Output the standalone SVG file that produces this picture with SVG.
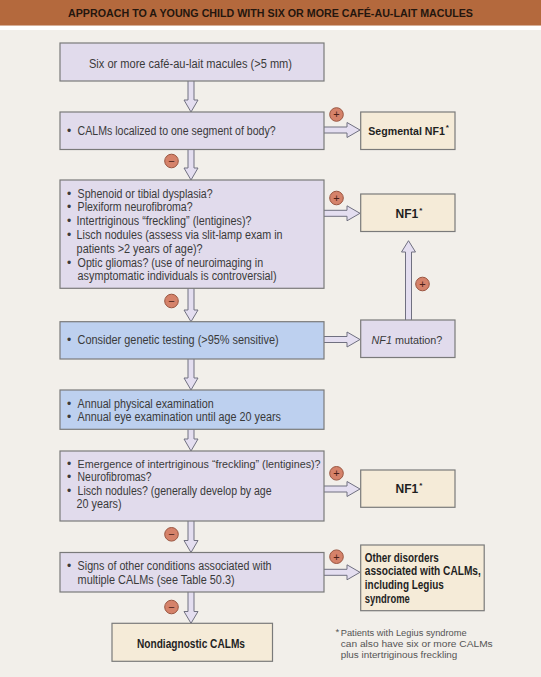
<svg xmlns="http://www.w3.org/2000/svg" width="541" height="677" viewBox="0 0 541 677">
<style>
text{font-family:"Liberation Sans",Arial,sans-serif;}
.t{font-size:12px;fill:#3a3a3a;}
.b{font-size:12px;font-weight:bold;fill:#1f1f1f;}
.fn{font-size:9.6px;fill:#555;}
.lav{fill:#e1dbec;stroke:#7a7a7a;stroke-width:1.2;}
.blu{fill:#bdd0ef;stroke:#7a7a7a;stroke-width:1.2;}
.bei{fill:#f5ebd8;stroke:#7a7a7a;stroke-width:1.2;}
.arr{fill:#e4def0;stroke:#707080;stroke-width:1;stroke-linejoin:miter;}
.c{fill:#d5826a;stroke:#9a5540;stroke-width:1;}
.s{font-size:11px;fill:#4a2018;text-anchor:middle;}
.sup{font-size:8px;}
</style>
<rect x="0" y="0" width="541" height="677" fill="#f2efea"/>
<rect x="0" y="25.5" width="541" height="4.5" fill="#ffffff"/>
<rect x="0" y="0" width="541" height="25.5" fill="#b4693d"/>
<text x="270.5" y="17.3" text-anchor="middle" font-size="11.2" font-weight="bold" fill="#24160e" textLength="405" lengthAdjust="spacingAndGlyphs">APPROACH TO A YOUNG CHILD WITH SIX OR MORE CAFÉ-AU-LAIT MACULES</text>

<g id="connectors">
  <!-- down arrows -->
  <path class="arr" d="M188,80 L188,100 L184,100 L191,112 L198,100 L194,100 L194,80"/>
  <path class="arr" d="M188,149 L188,168 L184,168 L191,180 L198,168 L194,168 L194,149"/>
  <path class="arr" d="M188,288 L188,310 L184,310 L191,321.7 L198,310 L194,310 L194,288"/>
  <path class="arr" d="M188,359 L188,378 L184,378 L191,390 L198,378 L194,378 L194,359"/>
  <path class="arr" d="M188,429 L188,439 L184,439 L191,451 L198,439 L194,439 L194,429"/>
  <path class="arr" d="M188,521 L188,540.5 L184,540.5 L191,552.5 L198,540.5 L194,540.5 L194,521"/>
  <path class="arr" d="M188,592 L188,611.5 L184,611.5 L191,623.3 L198,611.5 L194,611.5 L194,592"/>
  <!-- side arrows -->
  <path class="arr" d="M324,127 L347,127 L347,122.5 L360,130 L347,137.5 L347,133 L324,133"/>
  <path class="arr" d="M324,210.3 L347,210.3 L347,205.8 L360,213.3 L347,220.8 L347,216.3 L324,216.3"/>
  <path class="arr" d="M324,336.5 L347,336.5 L347,332 L360,339.5 L347,347 L347,342.5 L324,342.5"/>
  <path class="arr" d="M324,486 L347,486 L347,481.5 L360,489 L347,496.5 L347,492 L324,492"/>
  <path class="arr" d="M324,569.3 L347,569.3 L347,564.8 L360,572.3 L347,579.8 L347,575.3 L324,575.3"/>
  <!-- up arrow -->
  <path class="arr" d="M405.5,320.5 L405.5,252 L401.5,252 L408.5,240.7 L415.5,252 L411.5,252 L411.5,320.5"/>
  <!-- plus / minus labels -->
  <circle class="c" cx="336.5" cy="114.5" r="6.8"/><text class="s" x="336.5" y="118.3">+</text>
  <circle class="c" cx="336.5" cy="198" r="6.8"/><text class="s" x="336.5" y="201.8">+</text>
  <circle class="c" cx="422.5" cy="284" r="6.8"/><text class="s" x="422.5" y="287.8">+</text>
  <circle class="c" cx="336.5" cy="473.3" r="6.8"/><text class="s" x="336.5" y="477.1">+</text>
  <circle class="c" cx="336.5" cy="556.7" r="6.8"/><text class="s" x="336.5" y="560.5">+</text>
  <circle class="c" cx="171.5" cy="161" r="6.8"/><text class="s" x="171.5" y="164.8">−</text>
  <circle class="c" cx="171.5" cy="301" r="6.8"/><text class="s" x="171.5" y="304.8">−</text>
  <circle class="c" cx="171.5" cy="534.3" r="6.8"/><text class="s" x="171.5" y="538.1">−</text>
  <circle class="c" cx="171.5" cy="607" r="6.8"/><text class="s" x="171.5" y="610.8">−</text>
</g>

<g id="start">
  <rect class="lav" x="60" y="43" width="264" height="38"/>
  <text class="t" x="89" y="67.5" textLength="203" lengthAdjust="spacingAndGlyphs">Six or more café-au-lait macules (&gt;5 mm)</text>
</g>
<g id="segment-q">
  <rect class="lav" x="60" y="112" width="264" height="37.5"/>
  <text class="t" x="67" y="135">•</text>
  <text class="t" x="77.6" y="135" textLength="198" lengthAdjust="spacingAndGlyphs">CALMs localized to one segment of body?</text>
</g>
<g id="segmental-nf1">
  <rect class="bei" x="360.7" y="112" width="94.3" height="37.5"/>
  <text class="b" x="368.3" y="135" style="font-size:10.6px">Segmental NF1<tspan class="sup" dx="1" dy="-5">*</tspan></text>
</g>
<g id="clinical-q">
  <rect class="lav" x="60" y="180" width="264" height="108.3"/>
  <text class="t" x="67" y="197.6">•</text>
  <text class="t" x="77.6" y="197.6" textLength="135" lengthAdjust="spacingAndGlyphs">Sphenoid or tibial dysplasia?</text>
  <text class="t" x="67" y="211.4">•</text>
  <text class="t" x="77.6" y="211.4" textLength="115" lengthAdjust="spacingAndGlyphs">Plexiform neurofibroma?</text>
  <text class="t" x="67" y="225">•</text>
  <text class="t" x="76.6" y="225" textLength="175" lengthAdjust="spacingAndGlyphs">Intertriginous “freckling” (lentigines)?</text>
  <text class="t" x="67" y="239.3">•</text>
  <text class="t" x="76.6" y="239.3" textLength="206" lengthAdjust="spacingAndGlyphs">Lisch nodules (assess via slit-lamp exam in</text>
  <text class="t" x="76.6" y="252.6" textLength="126" lengthAdjust="spacingAndGlyphs">patients &gt;2 years of age)?</text>
  <text class="t" x="67" y="266.6">•</text>
  <text class="t" x="77.6" y="266.6" textLength="185.5" lengthAdjust="spacingAndGlyphs">Optic gliomas? (use of neuroimaging in</text>
  <text class="t" x="77.6" y="280" textLength="199" lengthAdjust="spacingAndGlyphs">asymptomatic individuals is controversial)</text>
</g>
<g id="nf1-a">
  <rect class="bei" x="360.7" y="194" width="94.3" height="37.5"/>
  <text class="b" x="395.5" y="217.6">NF1<tspan class="sup" dx="1" dy="-5">*</tspan></text>
</g>
<g id="genetic-testing">
  <rect class="blu" x="60" y="321.7" width="264" height="37.3"/>
  <text class="t" x="67" y="344.3">•</text>
  <text class="t" x="77.6" y="344.3" textLength="201" lengthAdjust="spacingAndGlyphs">Consider genetic testing (&gt;95% sensitive)</text>
</g>
<g id="nf1-mutation">
  <rect class="lav" x="360.7" y="320" width="94.3" height="37.5"/>
  <text class="t" x="371.5" y="343.6" style="font-size:10.8px"><tspan font-style="italic">NF1</tspan> mutation?</text>
</g>
<g id="annual-exams">
  <rect class="blu" x="60" y="390" width="264" height="39.3"/>
  <text class="t" x="67" y="407.6">•</text>
  <text class="t" x="77.6" y="407.6" textLength="136" lengthAdjust="spacingAndGlyphs">Annual physical examination</text>
  <text class="t" x="67" y="421">•</text>
  <text class="t" x="77.6" y="421" textLength="203.4" lengthAdjust="spacingAndGlyphs">Annual eye examination until age 20 years</text>
</g>
<g id="followup-q">
  <rect class="lav" x="60" y="451" width="264" height="70"/>
  <text class="t" x="67" y="467.6">•</text>
  <text class="t" x="77.6" y="467.6" style="font-size:10.8px" textLength="243" lengthAdjust="spacingAndGlyphs">Emergence of intertriginous “freckling” (lentigines)?</text>
  <text class="t" x="67" y="481">•</text>
  <text class="t" x="77.6" y="481" textLength="74" lengthAdjust="spacingAndGlyphs">Neurofibromas?</text>
  <text class="t" x="67" y="495">•</text>
  <text class="t" x="77.6" y="495" textLength="194" lengthAdjust="spacingAndGlyphs">Lisch nodules? (generally develop by age</text>
  <text class="t" x="76.6" y="508.3" textLength="45" lengthAdjust="spacingAndGlyphs">20 years)</text>
</g>
<g id="nf1-b">
  <rect class="bei" x="360.7" y="470" width="94.3" height="37.3"/>
  <text class="b" x="395.5" y="493.3">NF1<tspan class="sup" dx="1" dy="-5">*</tspan></text>
</g>
<g id="other-signs-q">
  <rect class="lav" x="60" y="552.5" width="264" height="39.5"/>
  <text class="t" x="67" y="570.3">•</text>
  <text class="t" x="77.6" y="570.3" textLength="194" lengthAdjust="spacingAndGlyphs">Signs of other conditions associated with</text>
  <text class="t" x="77.6" y="584.3" textLength="157" lengthAdjust="spacingAndGlyphs">multiple CALMs (see Table 50.3)</text>
</g>
<g id="other-disorders">
  <rect class="bei" x="360.7" y="545" width="123.5" height="65.7"/>
  <text class="b" x="364.8" y="561.6" textLength="74" lengthAdjust="spacingAndGlyphs">Other disorders</text>
  <text class="b" x="364.8" y="575.4" textLength="116" lengthAdjust="spacingAndGlyphs">associated with CALMs,</text>
  <text class="b" x="364.8" y="589.3" textLength="79" lengthAdjust="spacingAndGlyphs">including Legius</text>
  <text class="b" x="364.8" y="603.3" textLength="45" lengthAdjust="spacingAndGlyphs">syndrome</text>
</g>
<g id="nondiagnostic">
  <rect class="bei" x="112" y="623.3" width="160.5" height="38"/>
  <text class="b" x="137" y="647.6" textLength="108" lengthAdjust="spacingAndGlyphs">Nondiagnostic CALMs</text>
</g>
<g id="footnote">
  <text class="fn" x="335.5" y="635">*</text>
  <text class="fn" x="340.7" y="635.5" textLength="126" lengthAdjust="spacingAndGlyphs">Patients with Legius syndrome</text>
  <text class="fn" x="340.7" y="647" textLength="152" lengthAdjust="spacingAndGlyphs">can also have six or more CALMs</text>
  <text class="fn" x="340.7" y="658.3" textLength="116.6" lengthAdjust="spacingAndGlyphs">plus intertriginous freckling</text>
</g>
</svg>
